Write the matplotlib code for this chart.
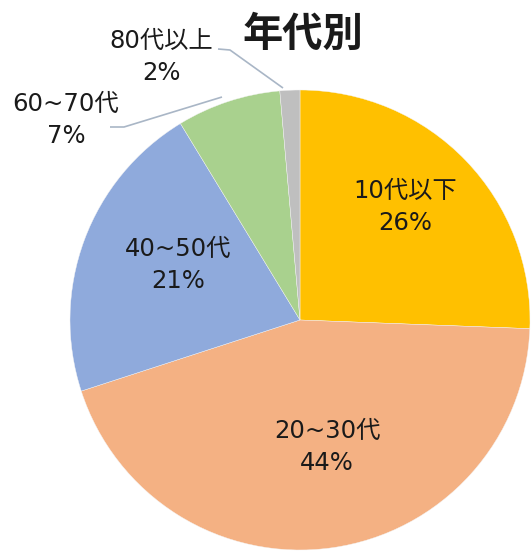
import matplotlib
matplotlib.use("Agg")
import matplotlib.pyplot as plt

plt.rcParams['font.family'] = ['DejaVu Sans', 'Noto Sans CJK JP']

categories = ["10代以下", "20~30代", "40~50代", "60~70代", "80代以上"]
values = [25.6, 44.4, 21.3, 7.3, 1.4]
shown_pct = [26, 44, 21, 7, 2]
colors = ["#FFC000", "#F4B183", "#8FAADC", "#A9D18E", "#BFBFBF"]
title = "年代別"

W, H = 531, 552
fig = plt.figure(figsize=(W / 100, H / 100), dpi=100)
ax = fig.add_axes([0, 0, 1, 1])
ax.pie(values, colors=colors, startangle=90, counterclock=False,
       center=(300, 232), radius=230,
       wedgeprops=dict(linewidth=0.3, edgecolor="#f4f4f4"))
ax.set_xlim(0, W)
ax.set_ylim(0, H)
ax.set_aspect("equal")
ax.axis("off")

label_pos = [(405, 345), (327, 105), (178, 287), (66, 432), (161, 495)]
for (x, y), cat, p in zip(label_pos, categories, shown_pct):
    ax.text(x, y, f"{cat}\n{p}%", ha="center", va="center",
            fontsize=17.5, color="#1a1a1a", linespacing=1.45)

lc = "#a9b6c6"
ax.plot([110, 124, 222], [425, 425, 455], color=lc, lw=1.2, solid_capstyle="butt")
ax.plot([218, 230, 283], [503, 502, 464], color=lc, lw=1.2, solid_capstyle="butt")

ax.text(303, 518, title, ha="center", va="center", fontsize=29,
        fontweight="bold", color="#1a1a1a",
        family=['Noto Sans CJK JP', 'DejaVu Sans'])

fig.savefig("out.png", dpi=100)
